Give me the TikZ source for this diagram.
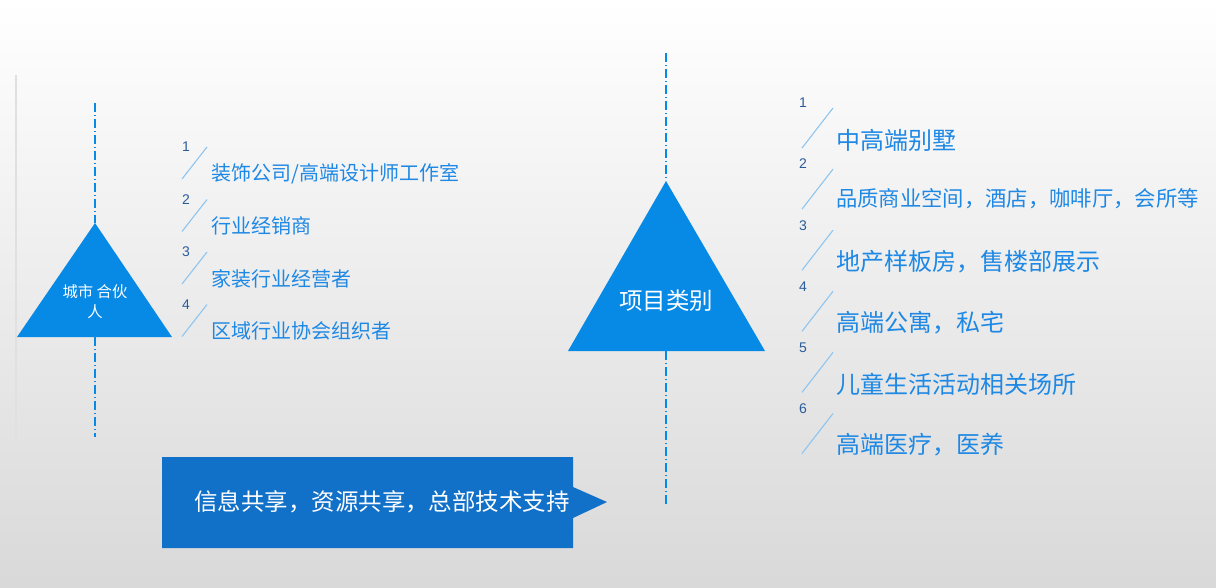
\documentclass[tikz,border=0pt]{standalone}
\usepackage{fontspec}
\setmainfont{Liberation Sans}
\newfontfamily\cjk{Noto Sans CJK SC}
\definecolor{triblue}{HTML}{0789E6}
\definecolor{boxblue}{HTML}{1170C8}
\definecolor{itemblue}{HTML}{1E88E5}
\definecolor{numblue}{HTML}{2B5C9A}
\definecolor{slashblue}{HTML}{8CC4F0}
\begin{document}
\begin{tikzpicture}[x=0.75pt,y=-0.75pt,
  itemL/.style={anchor=west, text=itemblue, inner sep=0pt, font=\cjk\fontsize{15}{18}\selectfont},
  itemR/.style={anchor=west, text=itemblue, inner sep=0pt, font=\cjk\fontsize{18}{20}\selectfont},
  itemRs/.style={anchor=west, text=itemblue, inner sep=0pt, font=\cjk\fontsize{16}{18}\selectfont},
  numlab/.style={anchor=center, text=numblue, inner sep=0pt, font=\fontsize{10.5}{12}\selectfont},
  slashline/.style={draw=slashblue, line width=0.8pt},
  axisline/.style={draw=triblue, line width=0.8pt, dash pattern=on 7pt off 2pt on 1pt off 2pt},
  tri/.style={fill=triblue},
  wlabel/.style={text=white, inner sep=0pt, anchor=center}]
\useasboundingbox (0,0) rectangle (1216,587);
% background
\shade[top color=white, bottom color=black!15] (0,0) rectangle (1216,587);
\draw[black!12, line width=0.8pt] (16,75) -- (16,438);

% left triangle
\coordinate (lA) at (95,223);
\coordinate (lB) at (172,337);
\coordinate (lC) at (17,337);
\fill[tri] (lA) -- (lB) -- (lC) -- cycle;
\coordinate (lTop) at (95,103);
\coordinate (lBase) at (95,337);
\coordinate (lBot) at (95,437);
\draw[axisline] (lTop) -- (lA);
\draw[axisline] (lBase) -- (lBot);
\node[wlabel, font=\cjk\fontsize{11.5}{13}\selectfont] (lt1) at (95,292) {城市 合伙};
\node[wlabel, font=\cjk\fontsize{11.5}{13}\selectfont] (lt2) at (95,312) {人};

% left items
\foreach \k/\t in {1/{装饰公司/高端设计师工作室}, 2/{行业经销商}, 3/{家装行业经营者}, 4/{区域行业协会组织者}}{
  \pgfmathsetmacro{\yy}{147+52.5*(\k-1)}
  \node[numlab] (ln\k) at (186,\yy) {\k};
  \coordinate (ls\k a) at (182,\yy+32);
  \coordinate (ls\k b) at (207,\yy);
  \draw[slashline] (ls\k a) -- (ls\k b);
  \node[itemL] (li\k) at (211,\yy+26.5) {\t};
}

% right triangle
\coordinate (rA) at (666,181);
\coordinate (rB) at (765,351);
\coordinate (rC) at (568,351);
\fill[tri] (rA) -- (rB) -- (rC) -- cycle;
\coordinate (rTop) at (666,53);
\coordinate (rBase) at (666,351);
\coordinate (rBot) at (666,505);
\draw[axisline] (rTop) -- (rA);
\draw[axisline] (rBase) -- (rBot);
\node[wlabel, font=\cjk\fontsize{17.6}{20}\selectfont] (rt) at (666,301) {项目类别};

% right items
\foreach \k in {1,...,6}{
  \pgfmathsetmacro{\yy}{103+61.1*(\k-1)}
  \node[numlab] (rn\k) at (803,\yy) {\k};
  \coordinate (rs\k a) at (802,\yy+45);
  \coordinate (rs\k b) at (833,\yy+5);
  \draw[slashline] (rs\k a) -- (rs\k b);
}
\node[itemR] (ri1) at (836,140) {中高端别墅};
\node[itemRs] (ri2) at (836,199) {品质商业空间，酒店，咖啡厅，会所等};
\node[itemR] (ri3) at (836,262) {地产样板房，售楼部展示};
\node[itemR] (ri4) at (836,323) {高端公寓，私宅};
\node[itemR] (ri5) at (836,384) {儿童生活活动相关场所};
\node[itemR] (ri6) at (836,445) {高端医疗，医养};

% bottom banner
\coordinate (b1) at (162,457);
\coordinate (b2) at (573,457);
\coordinate (b3) at (573,487);
\coordinate (b4) at (607,502);
\coordinate (b5) at (573,518);
\coordinate (b6) at (573,548);
\coordinate (b7) at (162,548);
\fill[boxblue] (b1) -- (b2) -- (b3) -- (b4) -- (b5) -- (b6) -- (b7) -- cycle;
\node[wlabel, font=\cjk\fontsize{17.6}{20}\selectfont] (bt) at (382,502) {信息共享，资源共享，总部技术支持};
\end{tikzpicture}
\end{document}
